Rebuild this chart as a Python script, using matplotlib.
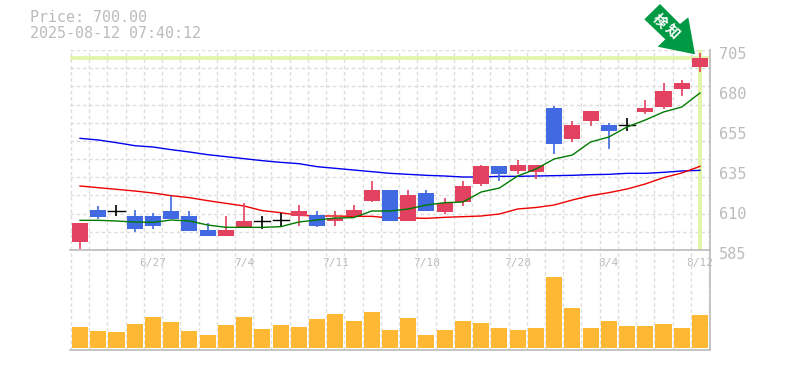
#!/usr/bin/env python3

import matplotlib
matplotlib.use("Agg")
import matplotlib.pyplot as plt
from matplotlib.patches import Polygon
from matplotlib.transforms import ScaledTranslation

W, H = 785, 370

# y pixel -> price, 705 at y=50 and 585 at y=250
def p(y):
    return round(705 - (y - 50) * 0.6, 1)

# prices
opens = [p(v) for v in [241.7, 217, 211, 229, 226, 219, 231, 236, 236, 227, 221.3, 220, 216, 226, 221, 216, 201, 221, 221, 211,
                        212, 202, 184, 174, 171, 172, 144, 139, 121, 131, 125, 112, 107, 89, 67]]
closes = [p(v) for v in [223, 210, 211, 216, 216, 211, 216, 230, 230, 221, 221.3, 220, 211, 215, 218, 210, 190, 190, 195, 193,
                         203, 186, 166, 166, 165, 165, 108, 125, 111, 125, 125, 108, 91, 83, 58]]
highs = [p(v) for v in [223, 206, 205, 210, 213, 196, 211, 223, 216, 203, 216, 213, 205, 211, 211, 205, 181, 190, 190, 190,
                        198, 181, 165, 166, 160, 165, 106, 121, 111, 123, 118, 100, 83, 80, 53]]
lows = [p(v) for v in [249, 219, 216, 232, 229, 219, 231, 236, 236, 227, 229, 227, 226, 227, 226, 217, 202, 221, 221, 211,
                       214, 206, 186, 181, 174, 179, 154, 142, 126, 149, 131, 114, 109, 96, 72]]
# True where the candle is drawn red
red = [1, 0, 0, 0, 0, 0, 0, 0, 1, 1, 0, 0, 1, 0, 1, 1, 1, 0, 1, 0,
       1, 1, 1, 0, 1, 1, 0, 1, 1, 0, 0, 1, 1, 1, 1]

ma_short = [p(v) for v in [220.3, 220.3, 221, 222, 222.3, 220, 221, 225, 227.3, 227.3, 227.3, 226.7, 222, 220, 218, 217.7, 211, 211,
                           209, 205, 202.7, 202, 192, 188, 176, 169, 159, 155, 142, 137, 127, 120, 112, 107, 93]]
ma_mid = [p(v) for v in [186, 187.7, 189.3, 191, 193, 195.7, 197.7, 200.7, 203.3, 206, 210.7, 212.7, 215.3, 216, 216, 216.3, 216.3, 218,
                         218, 218.3, 217.3, 216.7, 216, 214, 209, 207.5, 205, 200, 195.7, 192.7, 189, 184, 177.7, 173, 166.3]]
ma_long = [p(v) for v in [138.3, 140, 142.7, 145.7, 147, 149.7, 152, 154.7, 156.7, 158.7, 160.7, 162.3, 163.7, 166.7, 168.3, 170, 171.7, 173.3,
                          174.3, 175.3, 176, 177, 177, 176.3, 176.3, 176, 175.7, 175.3, 174.7, 174.3, 173.3, 173.3, 172.3, 171, 170.3]]
volume = [21, 17, 16, 24, 31, 26, 17, 13, 23, 31, 19, 23, 21, 29, 34, 27, 36, 18,
          30, 13, 18, 27, 25, 20, 18, 20, 71, 40, 20, 27, 22, 22, 24, 20, 33]

date_pos = [4, 9, 14, 19, 24, 29, 34]
date_labels = ["6/27", "7/4", "7/11", "7/18", "7/28", "8/4", "8/12"]
price_ticks = [705, 681, 657, 633, 609, 585]
price_labels = ["705", "680", "655", "635", "610", "585"]
last_price = 700

RED = "#e2415f"
BLUE = "#4169e1"
GREY = "#bbbbbb"
GRID = "#dddddd"
HILITE = "#e2f5a8"
MONO = "DejaVu Sans Mono"

n = len(opens)
xs = list(range(n))

fig = plt.figure(figsize=(W / 100, H / 100), dpi=100)

# axes placed from pixel boxes
def box(l, t, r, b):
    return [l / W, 1 - b / H, (r - l) / W, (b - t) / H]

ax = fig.add_axes(box(70, 50, 710, 250))
vax = fig.add_axes(box(70, 250, 710, 350))

for a in (ax, vax):
    a.set_xlim(-0.55, n - 0.45)
    a.set_facecolor("none")
    a.tick_params(length=0)
    for k in a.spines:
        a.spines[k].set_visible(False)
    a.spines["right"].set_visible(True)
    a.spines["bottom"].set_visible(True)
    a.spines["right"].set_color(GREY)
    a.spines["bottom"].set_color(GREY)
    a.spines["right"].set_linewidth(1.2)
    a.spines["bottom"].set_linewidth(1.2)
    for i in range(n + 1):
        a.axvline(i - 0.5, color=GRID, lw=1, ls=(0, (2.5, 2)), zorder=0)

ax.set_ylim(585, 705)
for i in range(12):
    ax.axhline(585 + i * 120 / 11, color=GRID, lw=1, ls=(0, (2.5, 2)), zorder=0)

ax.axhline(last_price, color=HILITE, lw=2.6, zorder=1)
ax.axvline(n - 1, color=HILITE, lw=3, ymin=0.01, zorder=1)

ax.plot(xs, ma_long, color="#0000ee", lw=1, zorder=2)
ax.plot(xs, ma_mid, color="#ee0000", lw=1, zorder=2)

# candles
for i in xs:
    if opens[i] == closes[i]:
        c = "black"
        ax.plot([i - 0.44, i + 0.44], [opens[i], closes[i]], color=c, lw=1, zorder=3)
    else:
        c = RED if red[i] else BLUE
        ax.bar(i, abs(closes[i] - opens[i]), bottom=min(opens[i], closes[i]), width=0.88, color=c, zorder=3)
    ax.plot([i, i], [lows[i], highs[i]], color=c, lw=1.2, zorder=3, solid_capstyle="butt")

ax.plot(xs, ma_short, color="#007a00", lw=1, zorder=4)

vax.set_ylim(-2, 98)
vax.bar(xs, volume, width=0.88, color="#ffb833", zorder=3)
vax.set_yticks([])
vax.set_xticks([])

ax.set_xticks(date_pos)
ax.set_xticklabels(date_labels, family=MONO, fontsize=8, color=GREY)
ax.tick_params(axis="x", pad=5.5)
ax.yaxis.tick_right()
ax.set_yticks(price_ticks)
ax.set_yticklabels(price_labels, family=MONO, fontsize=11, color=GREY)
ax.tick_params(axis="y", pad=6.5)
# price labels sit a little below their grid line
for lab in ax.get_yticklabels():
    lab.set_transform(lab.get_transform() + ScaledTranslation(0, -3 / 100, fig.dpi_scale_trans))

fig.text(30 / W, 1 - 18 / H, "Price: 700.00", family=MONO, fontsize=10.8, color=GREY, va="center")
fig.text(30 / W, 1 - 33 / H, "2025-08-12 07:40:12", family=MONO, fontsize=10.8, color=GREY, va="center")

# green marker arrow
arrow = [(644.3, 19.3), (660, 4), (680, 24), (688.3, 17.3), (695, 54.3), (657.7, 46.7), (665.3, 39.3)]
fig.add_artist(Polygon([(x / W, 1 - y / H) for x, y in arrow], closed=True, transform=fig.transFigure,
                       facecolor="#009944", edgecolor="none", zorder=10))
fig.text(659.5 / W, 1 - 21 / H, "検", family=["Noto Sans CJK JP", "DejaVu Sans"], fontsize=10, weight="bold",
         color="white", rotation=-45, ha="center", va="center", zorder=11)
fig.text(671.5 / W, 1 - 32.5 / H, "知", family=["Noto Sans CJK JP", "DejaVu Sans"], fontsize=10, weight="bold",
         color="white", rotation=-45, ha="center", va="center", zorder=11)

fig.savefig("out.png", dpi=100)
